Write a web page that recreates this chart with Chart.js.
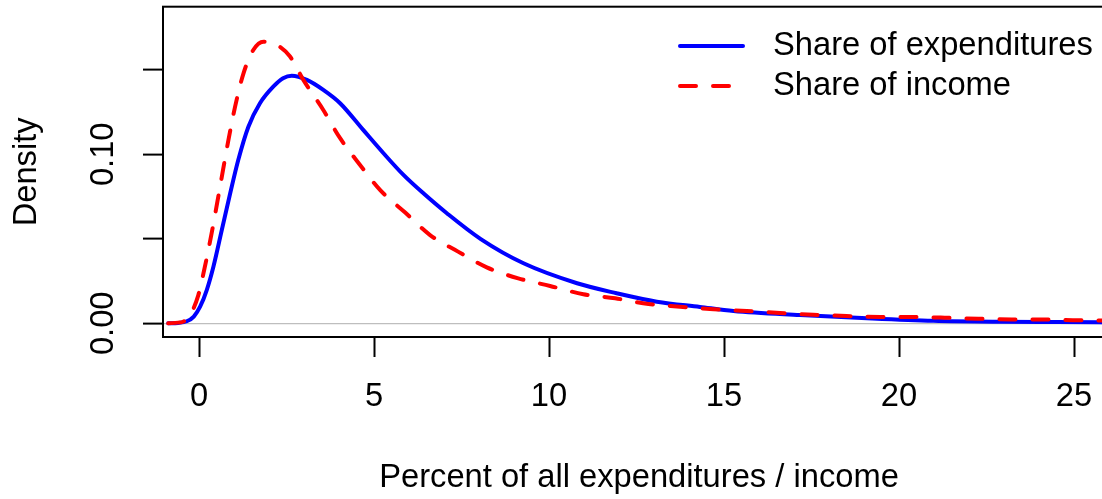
<!DOCTYPE html>
<html>
<head>
<meta charset="utf-8">
<script src="https://cdn.jsdelivr.net/npm/chart.js@4.4.1/dist/chart.umd.min.js"></script>
<style>
  html, body { margin: 0; padding: 0; background: #ffffff; overflow: hidden; }
  #wrap { width: 1120px; height: 499px; }
</style>
</head>
<body>
<div id="wrap"><canvas id="c" width="1120" height="499"></canvas></div>
<script>
// ---- data ----
const expX = [-0.88, -0.6, -0.35, -0.15, 0.03, 0.22, 0.41, 0.65, 0.89, 1.12, 1.41, 1.74, 2.12, 2.4, 2.65, 3.08, 3.55, 4.03, 4.69, 5.27, 5.84, 6.41, 7.08, 8.05, 9.27, 10.8, 11.93, 13.08, 14.31, 15.27, 17.17, 19.08, 20.98, 22.89, 24.5, 26.3];
const expY = [0.0000, 0.0002, 0.0012, 0.0040, 0.0098, 0.0197, 0.0335, 0.0552, 0.0769, 0.0966, 0.1163, 0.1302, 0.1400, 0.1450, 0.1465, 0.1440, 0.1381, 0.1302, 0.1144, 0.1006, 0.0878, 0.0769, 0.0651, 0.0498, 0.0355, 0.0237, 0.0178, 0.0128, 0.0097, 0.0073, 0.0049, 0.0030, 0.0015, 0.0009, 0.0007, 0.0005];
const incX = [-0.88, -0.6, -0.45, -0.25, -0.02, 0.12, 0.36, 0.6, 0.84, 1.03, 1.27, 1.55, 1.84, 2.22, 2.6, 2.98, 3.55, 4.03, 4.6, 5.17, 5.89, 6.6, 7.4, 8.22, 9.12, 10.03, 10.98, 11.89, 12.84, 13.74, 14.7, 15.65, 16.6, 17.55, 18.5, 19.46, 20.41, 21.31, 22.27, 23.22, 24.17, 25.12, 26.3];
const incY = [0.0000, 0.0004, 0.0010, 0.0050, 0.0167, 0.0290, 0.0533, 0.0808, 0.1085, 0.1282, 0.1479, 0.1617, 0.1666, 0.1647, 0.1578, 0.1440, 0.1262, 0.1095, 0.0937, 0.0789, 0.0655, 0.0522, 0.0424, 0.0331, 0.0266, 0.0221, 0.0172, 0.0148, 0.0114, 0.0098, 0.0083, 0.0073, 0.0061, 0.0051, 0.0043, 0.0038, 0.0037, 0.0033, 0.0027, 0.0023, 0.0023, 0.0018, 0.0016];
const seriesNames = ['Share of expenditures', 'Share of income'];
const xTicks = [0, 5, 10, 15, 20, 25];
const yTicks = [0, 0.05, 0.10, 0.15];
const yTickLabels = ['0.00', '', '0.10', ''];
const xTitle = 'Percent of all expenditures / income';
const yTitle = 'Density';

const FONT = '"Liberation Sans", Arial, Helvetica, sans-serif';
const FS = 32.7;

const toPts = (xs, ys) => xs.map((x, i) => ({ x: x, y: ys[i] }));

const framePlugin = {
  id: 'frame',
  afterDraw(chart) {
    const { ctx, chartArea: a } = chart;
    const ys = chart.scales.y;
    ctx.save();
    // box
    ctx.strokeStyle = '#000';
    ctx.lineWidth = 2;
    ctx.strokeRect(a.left, a.top, a.right - a.left, a.bottom - a.top);
    // y tick labels (rotated, R style)
    ctx.fillStyle = '#000';
    ctx.font = FS + 'px ' + FONT;
    ctx.textAlign = 'center';
    ctx.textBaseline = 'middle';
    yTicks.forEach((v, i) => {
      if (!yTickLabels[i]) return;
      const py = ys.getPixelForValue(v);
      ctx.save();
      ctx.translate(104, py);
      ctx.rotate(-Math.PI / 2);
      ctx.fillText(yTickLabels[i], 0, 0);
      ctx.restore();
    });
    // legend
    const lx0 = 680, lx1 = 743, tx = 773;
    const rows = [
      { y: 46, color: '#0000ff', dash: [] },
      { y: 86, color: '#ff0000', dash: [16, 17] }
    ];
    rows.forEach((r, i) => {
      ctx.save();
      ctx.strokeStyle = r.color;
      ctx.lineWidth = 4;
      ctx.lineCap = 'round';
      ctx.setLineDash(r.dash);
      ctx.beginPath();
      ctx.moveTo(lx0, r.y);
      ctx.lineTo(lx1, r.y);
      ctx.stroke();
      ctx.restore();
      ctx.textAlign = 'left';
      ctx.textBaseline = 'middle';
      ctx.fillText(seriesNames[i], tx, r.y);
    });
    ctx.restore();
  }
};

new Chart(document.getElementById('c'), {
  type: 'line',
  data: {
    datasets: [
      {
        label: seriesNames[1],
        data: toPts(incX, incY),
        borderColor: '#ff0000',
        borderWidth: 4,
        borderDash: [16, 17],
        borderCapStyle: 'round',
        pointRadius: 0,
        fill: false,
        cubicInterpolationMode: 'monotone',
        order: 0
      },
      {
        label: seriesNames[0],
        data: toPts(expX, expY),
        borderColor: '#0000ff',
        borderWidth: 4,
        borderCapStyle: 'round',
        borderJoinStyle: 'round',
        pointRadius: 0,
        fill: false,
        cubicInterpolationMode: 'monotone',
        order: 1
      }
    ]
  },
  options: {
    responsive: false,
    animation: false,
    devicePixelRatio: 1,
    layout: { padding: { top: 6.7, right: 5, left: 0, bottom: 0 } },
    plugins: { legend: { display: false }, tooltip: { enabled: false } },
    scales: {
      x: {
        type: 'linear',
        min: -1.03,
        max: 26.17,
        afterBuildTicks: s => { s.ticks = xTicks.map(v => ({ value: v })); },
        afterFit: s => { s.height = 162; },
        border: { display: false },
        grid: { drawOnChartArea: false, drawTicks: true, tickLength: 20, tickColor: '#000', tickWidth: 2 },
        ticks: {
          color: '#000',
          font: { family: FONT, size: FS },
          padding: 20,
          maxRotation: 0,
          autoSkip: false,
          callback: v => String(v)
        },
        title: {
          display: true,
          text: xTitle,
          color: '#000',
          font: { family: FONT, size: FS },
          padding: { top: 0, bottom: 1 }
        }
      },
      y: {
        type: 'linear',
        min: -0.0081,
        max: 0.1873,
        afterBuildTicks: s => { s.ticks = yTicks.map(v => ({ value: v })); },
        afterFit: s => { s.width = 163; },
        border: { display: false },
        grid: {
          drawOnChartArea: true,
          drawTicks: true,
          tickLength: 20,
          tickColor: '#000',
          tickWidth: 2,
          color: c => (c.tick && c.tick.value === 0) ? '#bebebe' : 'rgba(0,0,0,0)',
          lineWidth: 1.2
        },
        ticks: { display: false },
        title: {
          display: true,
          text: yTitle,
          color: '#000',
          font: { family: FONT, size: FS },
          padding: { top: 7, bottom: 0 }
        }
      }
    }
  },
  plugins: [framePlugin]
});
</script>
</body>
</html>
